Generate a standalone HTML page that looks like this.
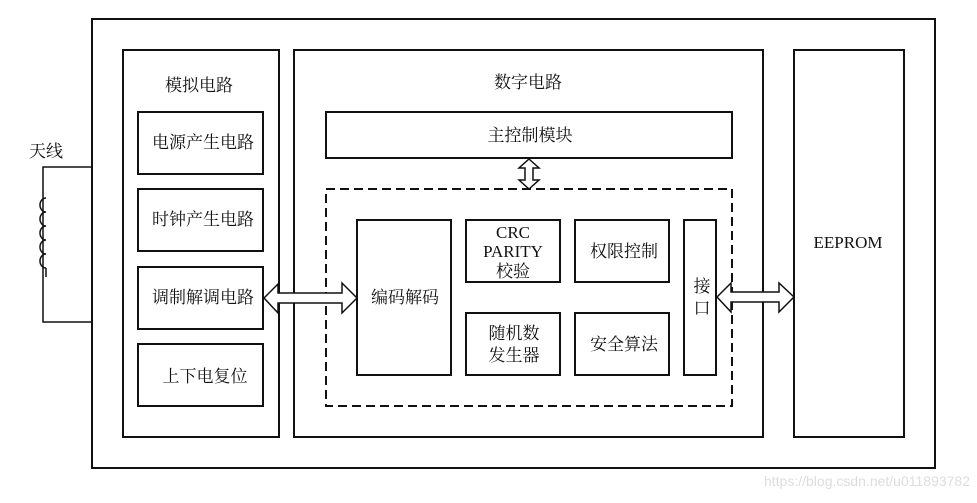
<!DOCTYPE html>
<html><head><meta charset="utf-8"><style>
body{margin:0;background:#fff}
svg text{font-family:"Liberation Serif","Noto Serif CJK SC",serif;font-size:17px;fill:#111}
</style></head><body>
<svg width="977" height="498" viewBox="0 0 977 498" xmlns="http://www.w3.org/2000/svg">
<rect width="977" height="498" fill="#fff"/>
<g fill="none" stroke="#111" stroke-width="2">
<rect x="92" y="19" width="843" height="449"/>
<rect x="123" y="50" width="156" height="387"/>
<rect x="138" y="112" width="125" height="62"/>
<rect x="138" y="189" width="125" height="62"/>
<rect x="138" y="267" width="125" height="62"/>
<rect x="138" y="344" width="125" height="62"/>
<rect x="294" y="50" width="469" height="387"/>
<rect x="794" y="50" width="110" height="387"/>
<rect x="326" y="112" width="406" height="46"/>
<rect x="326" y="189" width="406" height="217" stroke-dasharray="9,5"/>
<rect x="357" y="220" width="94" height="155"/>
<rect x="466" y="220" width="94" height="62"/>
<rect x="575" y="220" width="94" height="62"/>
<rect x="466" y="313" width="94" height="62"/>
<rect x="575" y="313" width="94" height="62"/>
<rect x="684" y="220" width="32" height="155"/>
</g>
<g fill="none" stroke="#111" stroke-width="1.5">
<polyline points="91,167 43,167 43,322 91,322"/>
<path d="M46,198 A6,7 0 0,0 46,212 M46,212 A6,7 0 0,0 46,226 M46,226 A6,7 0 0,0 46,240 M46,240 A6,7 0 0,0 46,254 M46,254 A6,7 0 0,0 46,268 M46,268 L46,277"/>
</g>
<g fill="#fff" stroke="#111" stroke-width="1.5">
<polygon points="264,298 278,284 278,293 342,293 342,283 357,298 342,313 342,303 278,303 278,313"/>
<polygon points="717,297 731,283 731,292 779,292 779,283 794,297 779,312 779,302 731,302 731,312"/>
<polygon points="529,159 539,168 533,168 533,180 539,180 529,189 519,180 525,180 525,168 519,168"/>
</g>
<text x="199" y="91" text-anchor="middle">模拟电路</text>
<text x="203" y="148" text-anchor="middle">电源产生电路</text>
<text x="203" y="225" text-anchor="middle">时钟产生电路</text>
<text x="203" y="303" text-anchor="middle">调制解调电路</text>
<text x="205" y="382" text-anchor="middle">上下电复位</text>
<text x="46" y="157" text-anchor="middle">天线</text>
<text x="528" y="88" text-anchor="middle">数字电路</text>
<text x="530" y="141" text-anchor="middle">主控制模块</text>
<text x="405" y="303" text-anchor="middle">编码解码</text>
<text x="513" y="238" text-anchor="middle">CRC</text>
<text x="513" y="257" text-anchor="middle">PARITY</text>
<text x="513" y="277" text-anchor="middle">校验</text>
<text x="624" y="257" text-anchor="middle">权限控制</text>
<text x="514" y="339" text-anchor="middle">随机数</text>
<text x="514" y="361" text-anchor="middle">发生器</text>
<text x="624" y="350" text-anchor="middle">安全算法</text>
<text x="702" y="292" text-anchor="middle">接</text>
<text x="702" y="314" text-anchor="middle">口</text>
<text x="848" y="248" text-anchor="middle">EEPROM</text>
<text x="970" y="486" text-anchor="end" style="font-family:'Liberation Sans',sans-serif;font-size:14px;fill:#ddd">https://blog.csdn.net/u011893782</text>
</svg>
</body></html>
